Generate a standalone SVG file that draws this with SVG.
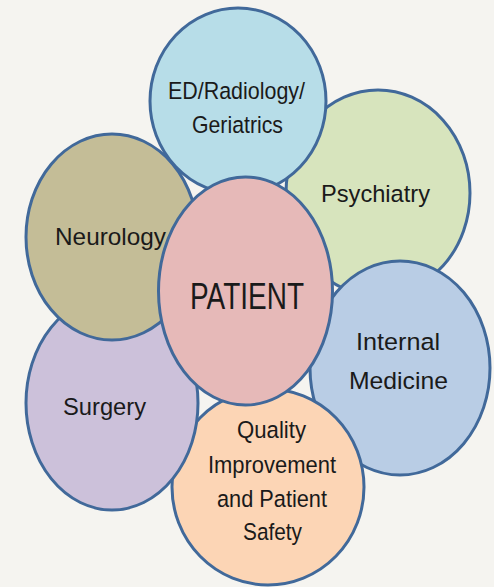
<svg xmlns="http://www.w3.org/2000/svg" width="494" height="587" viewBox="0 0 494 587">
<style>
.c{stroke:#41699a;stroke-width:3}
.t{font-family:"Liberation Sans",Arial,sans-serif;font-size:24.5px;fill:#1a1a1a;text-anchor:middle}
.big{font-size:37.5px}
</style>
<rect width="494" height="587" fill="#f5f4f0"/>
<g id="psychiatry"><ellipse class="c" cx="378" cy="193" rx="92" ry="103" fill="#d7e4bd"/><text class="t" x="375.5" y="202" textLength="109" lengthAdjust="spacingAndGlyphs">Psychiatry</text></g>
<g id="internal-medicine"><ellipse class="c" cx="400" cy="368" rx="90" ry="107" fill="#b9cde5"/><text class="t" x="398" y="350" textLength="84" lengthAdjust="spacingAndGlyphs">Internal</text><text class="t" x="398.5" y="389" textLength="99" lengthAdjust="spacingAndGlyphs">Medicine</text></g>
<g id="quality"><ellipse class="c" cx="268" cy="487" rx="96" ry="98" fill="#fcd5b5"/><text class="t" x="271.5" y="438" textLength="69" lengthAdjust="spacingAndGlyphs">Quality</text><text class="t" x="272" y="473" textLength="128" lengthAdjust="spacingAndGlyphs">Improvement</text><text class="t" x="272" y="507" textLength="110" lengthAdjust="spacingAndGlyphs">and Patient</text><text class="t" x="272.5" y="540" textLength="59" lengthAdjust="spacingAndGlyphs">Safety</text></g>
<g id="surgery"><ellipse class="c" cx="112" cy="403" rx="86" ry="107" fill="#ccc1da"/><text class="t" x="104.5" y="415" textLength="83" lengthAdjust="spacingAndGlyphs">Surgery</text></g>
<g id="neurology"><ellipse class="c" cx="112" cy="237" rx="86" ry="103" fill="#c4bd97"/><text class="t" x="110.5" y="245" textLength="111" lengthAdjust="spacingAndGlyphs">Neurology</text></g>
<g id="ed"><ellipse class="c" cx="238" cy="101" rx="88" ry="93" fill="#b7dde8"/><text class="t" x="236.5" y="99" textLength="137" lengthAdjust="spacingAndGlyphs">ED/Radiology/</text><text class="t" x="237.5" y="133" textLength="91" lengthAdjust="spacingAndGlyphs">Geriatrics</text></g>
<g id="patient"><ellipse class="c" cx="245.5" cy="291" rx="87" ry="114" fill="#e6b9b8"/><text class="t big" x="247" y="309" textLength="114" lengthAdjust="spacingAndGlyphs">PATIENT</text></g>
<g id="connectors"/>
</svg>
